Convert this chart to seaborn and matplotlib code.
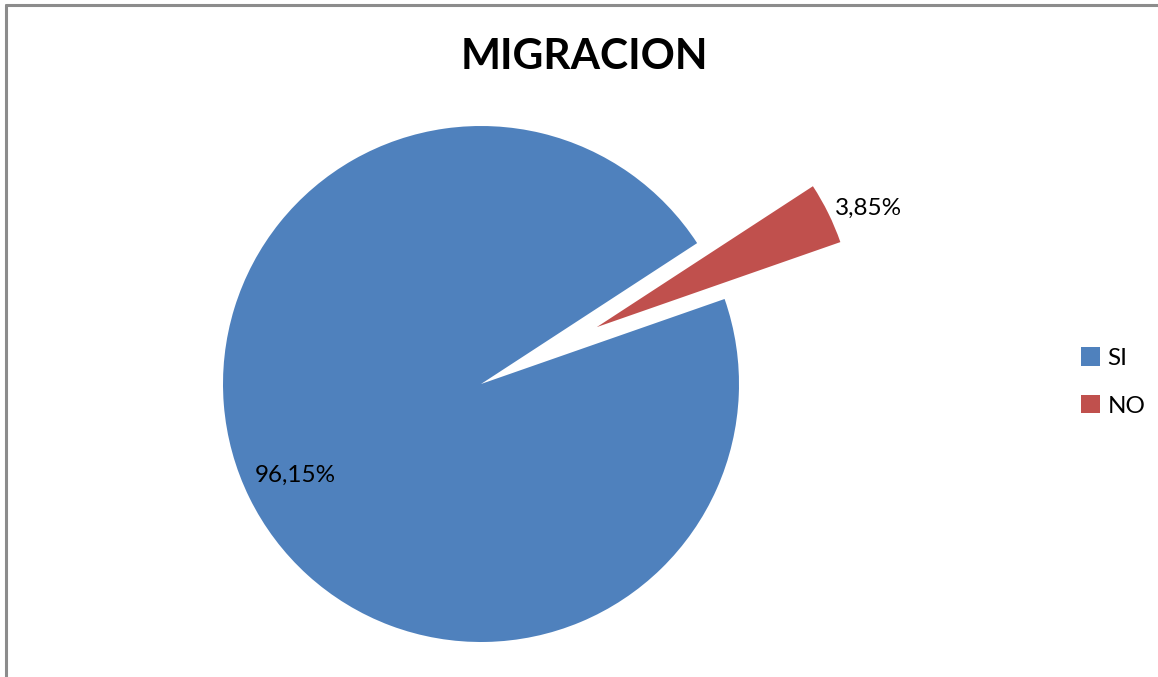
import numpy as np
import matplotlib
matplotlib.use('Agg')
import matplotlib.pyplot as plt
import seaborn as sns

sns.set_theme(style='white')
plt.rcParams['font.family'] = ['Lato', 'DejaVu Sans']
plt.rcParams['text.color'] = 'black'

# datos
categorias = ['SI', 'NO']
porcentajes = [96.15, 3.85]
colores = ['#4F81BD', '#C0504D']
titulo = 'MIGRACION'

fig = plt.figure(figsize=(11.58, 6.77), dpi=100)

# marco del grafico (solo izquierda y arriba visibles)
fig.add_artist(plt.Line2D([6 / 1158, 6 / 1158], [0, 1 - 5 / 677], transform=fig.transFigure,
                          color='#8c8c8c', lw=2.2))
fig.add_artist(plt.Line2D([6 / 1158, 1], [1 - 5 / 677, 1 - 5 / 677], transform=fig.transFigure,
                          color='#8c8c8c', lw=2.2))

cx, cy, r = 481, 384, 258
ax = fig.add_axes([(cx - r) / 1158, (677 - cy - r) / 677, 2 * r / 1158, 2 * r / 677])

wedges, textos, autotextos = ax.pie(
    porcentajes, colors=colores, startangle=33.1, counterclock=True,
    explode=[0, 0.5], radius=1,
    autopct=lambda p: f'{p:.2f}%'.replace('.', ','), pctdistance=0.8,
    textprops={'fontsize': 17.5, 'color': 'black'},
    wedgeprops={'linewidth': 0})
ax.set_xlim(-1, 1)
ax.set_ylim(-1, 1)
ax.set_aspect('equal')
ax.axis('off')
for w in wedges:
    w.set_clip_on(False)

# etiqueta del sector pequeño fuera del sector
w = wedges[1]
ang = np.deg2rad((w.theta1 + w.theta2) / 2 - 2.5)
ox, oy = w.center
autotextos[1].set_position((ox + 1.15 * np.cos(ang), oy + 1.15 * np.sin(ang)))
autotextos[1].set_clip_on(False)

fig.text(584 / 1158, 1 - 57 / 677, titulo, ha='center', va='center',
         fontsize=30.5, fontweight='bold', color='black')

fig.legend(wedges, categorias, loc='center left', bbox_to_anchor=(1059 / 1158, 1 - 382 / 677),
           frameon=False, fontsize=17.5, handlelength=0.8, handleheight=0.8,
           handletextpad=0.3, labelspacing=1.05, labelcolor='black')

fig.savefig('out.png', dpi=100)
